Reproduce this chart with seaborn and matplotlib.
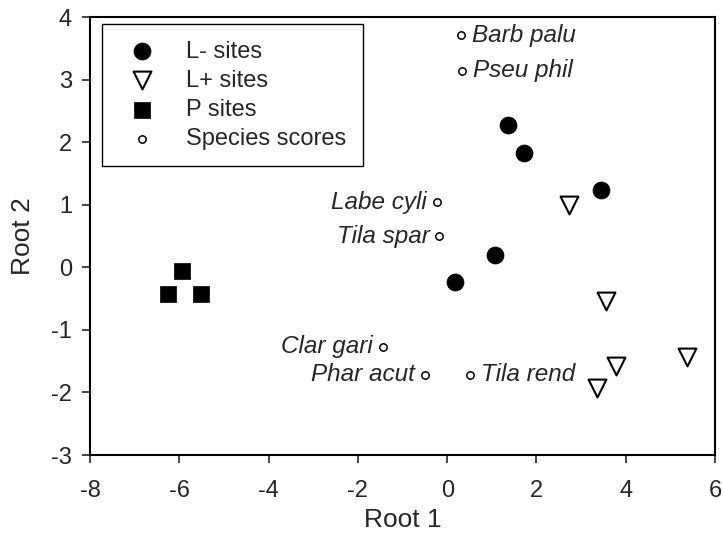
import matplotlib
matplotlib.use("Agg")
import matplotlib.pyplot as plt
import seaborn as sns

# site scores
lminus_x = [1.36, 1.72, 3.45, 1.07, 0.18]
lminus_y = [2.27, 1.83, 1.24, 0.20, -0.24]
lplus_x = [2.73, 3.56, 3.78, 3.36, 5.37]
lplus_y = [1.00, -0.54, -1.58, -1.93, -1.43]
p_x = [-5.94, -6.25, -5.51]
p_y = [-0.06, -0.43, -0.43]

# species scores
species = ["Barb palu", "Pseu phil", "Labe cyli", "Tila spar",
           "Clar gari", "Phar acut", "Tila rend"]
species_x = [0.31, 0.33, -0.23, -0.18, -1.44, -0.50, 0.51]
species_y = [3.71, 3.14, 1.04, 0.50, -1.27, -1.72, -1.72]

x_ticks = [-8, -6, -4, -2, 0, 2, 4, 6]
y_ticks = [-3, -2, -1, 0, 1, 2, 3, 4]

sns.set_style("white")
plt.rcParams["font.family"] = ["Liberation Sans", "DejaVu Sans"]
plt.rcParams["axes.unicode_minus"] = False

fig = plt.figure(figsize=(7.22, 5.45), dpi=100)
ax = fig.add_axes([0.1247, 0.1651, 0.8657, 0.8037])

sns.scatterplot(x=lminus_x, y=lminus_y, marker="o", s=150, color="black",
                edgecolor="black", linewidth=0.5, label="L- sites", ax=ax)
sns.scatterplot(x=lplus_x, y=lplus_y, marker="v", s=165, color="white",
                edgecolor="black", linewidth=1.5, label="L+ sites", ax=ax)
sns.scatterplot(x=p_x, y=p_y, marker="s", s=130, color="black",
                edgecolor="black", linewidth=0.5, label="P sites", ax=ax)
sns.scatterplot(x=species_x, y=species_y, marker="o", s=28, color="white",
                edgecolor="black", linewidth=1.1, label="Species scores", ax=ax)

# species names: most to the right, a few to the left of the point
left_side = {"Labe cyli", "Tila spar", "Clar gari", "Phar acut"}
for name, sx, sy in zip(species, species_x, species_y):
    if name in left_side:
        ax.annotate(name, (sx, sy), xytext=(-7, 0), textcoords="offset points",
                    ha="right", va="center", fontsize=17.5, style="italic")
    else:
        ax.annotate(name, (sx, sy), xytext=(8, 0), textcoords="offset points",
                    ha="left", va="center", fontsize=17.5, style="italic")

ax.set_xlim(-8, 6)
ax.set_ylim(-3, 4)
ax.set_xticks(x_ticks)
ax.set_yticks(y_ticks)
ax.tick_params(axis="x", direction="out", length=6, width=1.2, pad=12,
               labelsize=17, bottom=True)
ax.tick_params(axis="y", direction="out", length=6, width=1.2, pad=7,
               labelsize=17, left=True)
for side in ax.spines.values():
    side.set_color("black")
    side.set_linewidth(1.5)

ax.set_xlabel("Root 1", fontsize=19)
ax.set_ylabel("Root 2", fontsize=19)
ax.xaxis.set_label_coords(0.5, -0.12)
ax.yaxis.set_label_coords(-0.088, 0.5)

leg = ax.legend(loc="upper left", bbox_to_anchor=(0.019, 0.984),
                borderaxespad=0, fontsize=17, frameon=True, fancybox=False,
                framealpha=1, edgecolor="black", labelspacing=0.3,
                borderpad=0.7, handletextpad=0.85, handlelength=2)
leg.get_frame().set_linewidth(1.0)

fig.savefig("out.png", dpi=100)
